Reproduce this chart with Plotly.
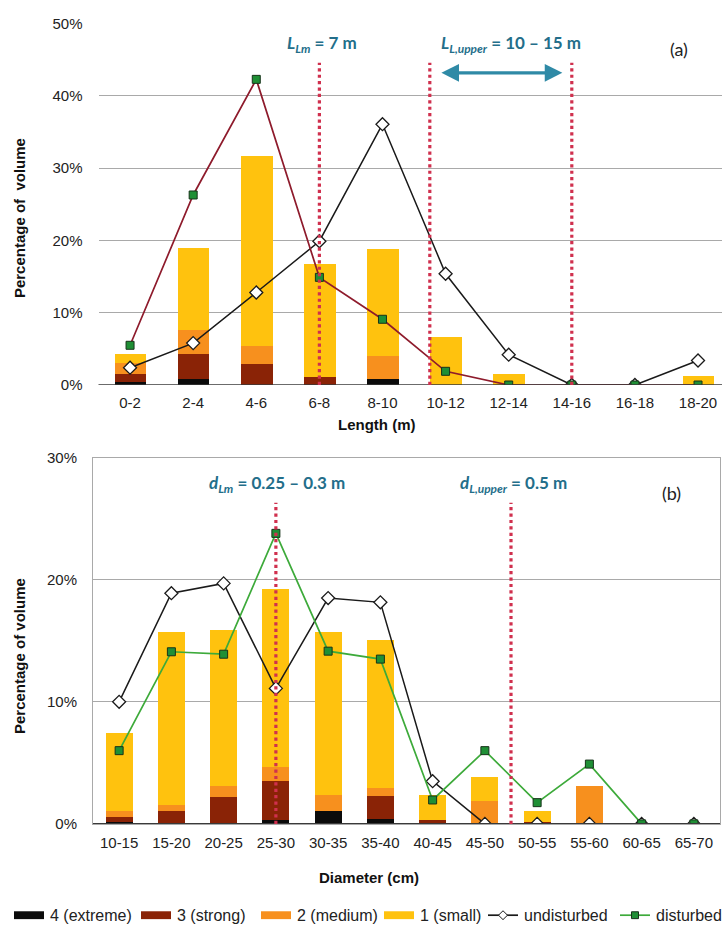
import plotly.graph_objects as go

# ---- data: (a) length classes ----
length_labels = ["0-2", "2-4", "4-6", "6-8", "8-10", "10-12", "12-14", "14-16", "16-18", "18-20"]
len_extreme = [0.4, 0.9, 0.0, 0.0, 0.9, 0.0, 0.0, 0.0, 0.0, 0.0]
len_strong = [1.2, 3.4, 3.0, 1.2, 0.0, 0.0, 0.0, 0.0, 0.0, 0.0]
len_medium = [1.5, 3.3, 2.5, 0.0, 3.1, 0.0, 0.0, 0.0, 0.0, 0.0]
len_small = [1.2, 11.4, 26.2, 15.6, 14.8, 6.7, 1.5, 0.0, 0.0, 1.3]
len_undisturbed = [2.4, 5.8, 12.8, 19.9, 36.1, 15.4, 4.2, 0.0, 0.0, 3.4]
len_disturbed = [5.5, 26.3, 42.3, 14.9, 9.1, 1.9, 0.0, 0.0, 0.0, 0.0]
len_yticks = [0, 10, 20, 30, 40, 50]

# ---- data: (b) diameter classes ----
diam_labels = ["10-15", "15-20", "20-25", "25-30", "30-35", "35-40",
               "40-45", "45-50", "50-55", "55-60", "60-65", "65-70"]
diam_extreme = [0.2, 0.0, 0.0, 0.35, 1.07, 0.4, 0.0, 0.0, 0.05, 0.0, 0.0, 0.0]
diam_strong = [0.4, 1.07, 2.2, 3.15, 0.0, 1.9, 0.35, 0.0, 0.1, 0.0, 0.0, 0.0]
diam_medium = [0.45, 0.5, 0.9, 1.2, 1.35, 0.7, 0.0, 1.9, 0.0, 3.1, 0.0, 0.0]
diam_small = [6.4, 14.2, 12.8, 14.6, 13.3, 12.1, 2.05, 2.0, 0.9, 0.0, 0.0, 0.0]
diam_undisturbed = [10.0, 18.9, 19.7, 11.1, 18.5, 18.15, 3.5, 0.0, 0.0, 0.0, 0.0, 0.0]
diam_disturbed = [6.0, 14.1, 13.9, 23.8, 14.15, 13.5, 1.96, 6.0, 1.74, 4.9, 0.0, 0.0]
diam_yticks = [0, 10, 20, 30]

class_names = ["4 (extreme)", "3 (strong)", "2 (medium)", "1 (small)"]
class_colors = ["#0b0b0b", "#8a2306", "#f7901e", "#ffc20e"]

# reference markers on the category axes (category index positions)
len_refs = [3.0, 4.75, 7.0]
diam_refs = [3.0, 7.5]

W, H = 722, 934
FONT = "Liberation Sans, Arial, sans-serif"
LABEL_FONT = "Lato, Carlito, Calibri, sans-serif"
TEAL = "#236e8a"
ARROW = "#2f8aa6"
REDDOT = "#d0304e"


def px_x(p):
    return p / W


def px_y(p):
    return 1 - p / H


fig = go.Figure()

panels = [
    ("x", "y", length_labels, [len_extreme, len_strong, len_medium, len_small],
     len_undisturbed, len_disturbed, "#8e1b2c", 0.5),
    ("x2", "y2", diam_labels, [diam_extreme, diam_strong, diam_medium, diam_small],
     diam_undisturbed, diam_disturbed, "#3daa3a", 0.52),
]

for xa, ya, labels, stacks, undist, dist, dist_line, bw in panels:
    idx = list(range(len(labels)))
    for name, color, vals in zip(class_names, class_colors, stacks):
        fig.add_trace(go.Bar(x=idx, y=vals, name=name, marker_color=color,
                             marker_line_width=0, width=bw, xaxis=xa, yaxis=ya,
                             showlegend=False))
    fig.add_trace(go.Scatter(x=idx, y=undist, name="undisturbed", mode="lines+markers",
                             line=dict(color="#1a1a1a", width=1.5),
                             marker=dict(symbol="diamond", size=10, color="white",
                                         line=dict(color="#1a1a1a", width=1.3)),
                             xaxis=xa, yaxis=ya, showlegend=False))
    fig.add_trace(go.Scatter(x=idx, y=dist, name="disturbed", mode="lines+markers",
                             line=dict(color=dist_line, width=1.7),
                             marker=dict(symbol="square", size=8, color="#1f8f35",
                                         line=dict(color="#17331a", width=1)),
                             xaxis=xa, yaxis=ya, showlegend=False))

tickfont = dict(family=FONT, size=15, color="#222222")
grid = "#a9a9a9"

fig.update_layout(
    width=W, height=H,
    margin=dict(l=0, r=0, t=0, b=0),
    paper_bgcolor="white", plot_bgcolor="white",
    barmode="stack",
    bargap=0,
    xaxis=dict(domain=[px_x(98.5), 1.0], range=[-0.5, 9.38],
               tickvals=list(range(len(length_labels))), ticktext=length_labels,
               tickfont=tickfont, showgrid=False, zeroline=False, showline=False,
               ticks="outside", ticklen=4, tickcolor="rgba(0,0,0,0)", anchor="y"),
    yaxis=dict(domain=[px_y(383), px_y(15)], range=[0, 50],
               tickvals=len_yticks, ticktext=[f"{v}%" for v in len_yticks],
               tickfont=tickfont, showgrid=True, gridcolor=grid, gridwidth=1,
               zeroline=False, showline=False,
               ticks="outside", ticklen=12, tickcolor="rgba(0,0,0,0)", anchor="x"),
    xaxis2=dict(domain=[px_x(93), px_x(720)], range=[-0.5, 11.5],
                tickvals=list(range(len(diam_labels))), ticktext=diam_labels,
                tickfont=tickfont, showgrid=False, zeroline=False,
                showline=True, mirror=True, linecolor=grid, linewidth=1,
                ticks="outside", ticklen=5, tickcolor="rgba(0,0,0,0)", anchor="y2"),
    yaxis2=dict(domain=[px_y(830), px_y(457)], range=[0, 30],
                tickvals=diam_yticks, ticktext=[f"{v}%" for v in diam_yticks],
                tickfont=tickfont, showgrid=True, gridcolor=grid, gridwidth=1,
                zeroline=False, showline=True, mirror=True, linecolor=grid, linewidth=1,
                ticks="outside", ticklen=12, tickcolor="rgba(0,0,0,0)", anchor="x2"),
)

shapes = []
# dark baselines at 0 %
for xa, ya in (("x", "y"), ("x2", "y2")):
    shapes.append(dict(type="line", xref=xa + " domain", yref=ya, x0=0, x1=1, y0=0, y1=0,
                       line=dict(color="#3a3a3a", width=1.6), layer="above"))
# red dotted reference lines
for xv in len_refs:
    shapes.append(dict(type="line", xref="x", yref="y", x0=xv, x1=xv, y0=0, y1=44.6,
                       line=dict(color=REDDOT, width=3.2, dash="dot"), layer="above"))
for xv in diam_refs:
    shapes.append(dict(type="line", xref="x2", yref="y2", x0=xv, x1=xv, y0=0, y1=26.3,
                       line=dict(color=REDDOT, width=3.2, dash="dot"), layer="above"))

annotations = []
# upper-length range arrow
annotations.append(dict(x=6.85, y=43.2, ax=4.91, ay=43.2, xref="x", yref="y",
                        axref="x", ayref="y", text="", showarrow=True,
                        arrowhead=2, arrowsize=1.1, arrowwidth=3.2, arrowcolor=ARROW,
                        arrowside="end+start", startarrowhead=2, startarrowsize=1.1))

lab_font = dict(family=LABEL_FONT, size=17, color=TEAL)
ann_px = [
    (322, 36, "<b><i>L</i><sub><i>Lm</i></sub> = 7 m</b>", lab_font),
    (511, 36, "<b><i>L</i><sub><i>L,upper</i></sub> = 10 – 15 m</b>", lab_font),
    (679, 41, "(a)", dict(family=LABEL_FONT, size=18, color="#222222")),
    (277, 484, "<b><i>d</i><sub><i>Lm</i></sub> = 0.25 – 0.3 m</b>", lab_font),
    (513, 484, "<b><i>d</i><sub><i>L,upper</i></sub> = 0.5 m</b>", lab_font),
    (671, 493, "(b)", dict(family=LABEL_FONT, size=18, color="#222222")),
    (376, 423, "<b>Length (m)</b>", dict(family=FONT, size=15, color="#111111")),
    (369, 885, "<b>Diameter (cm)</b>", dict(family=FONT, size=15, color="#111111")),
]
for x, y, t, f in ann_px:
    annotations.append(dict(x=px_x(x), y=px_y(y), xref="paper", yref="paper", text=t,
                            showarrow=False, font=f, xanchor="center", yanchor="middle"))
for y in (213, 659):
    annotations.append(dict(x=px_x(19), y=px_y(y), xref="paper", yref="paper",
                            text="<b>Percentage of\u00a0 volume</b>" if y == 213 else "<b>Percentage of volume</b>",
                            textangle=-90, showarrow=False,
                            font=dict(family=FONT, size=15, color="#111111"),
                            xanchor="center", yanchor="middle"))

# legend row drawn along the bottom edge
LEG_Y = 923
rect_x = [14, 141, 261, 384]
text_x = [48, 175, 295, 418]
for x0, tx, name, color in zip(rect_x, text_x, class_names, class_colors):
    shapes.append(dict(type="rect", xref="paper", yref="paper",
                       x0=px_x(x0), x1=px_x(x0 + 30), y0=px_y(LEG_Y + 4), y1=px_y(LEG_Y - 4),
                       fillcolor=color, line=dict(width=0)))
    annotations.append(dict(x=px_x(tx), y=px_y(LEG_Y), xref="paper", yref="paper", text=name,
                            showarrow=False, font=dict(family=FONT, size=16, color="#222222"),
                            xanchor="left", yanchor="middle"))

line_items = [(488, 522, "undisturbed", "#1a1a1a", "diamond"),
              (620, 654, "disturbed", "#3daa3a", "square")]
for x0, tx, name, lc, sym in line_items:
    shapes.append(dict(type="line", xref="paper", yref="paper",
                       x0=px_x(x0), x1=px_x(x0 + 30), y0=px_y(LEG_Y), y1=px_y(LEG_Y),
                       line=dict(color=lc, width=1.7)))
    cx = x0 + 15
    if sym == "diamond":
        pts = [(cx, LEG_Y - 4.5), (cx + 4.5, LEG_Y), (cx, LEG_Y + 4.5), (cx - 4.5, LEG_Y)]
        fill, edge = "white", "#1a1a1a"
    else:
        pts = [(cx - 3.5, LEG_Y - 3.5), (cx + 3.5, LEG_Y - 3.5), (cx + 3.5, LEG_Y + 3.5), (cx - 3.5, LEG_Y + 3.5)]
        fill, edge = "#1f8f35", "#17331a"
    path = "M " + " L ".join(f"{px_x(a):.5f},{px_y(b):.5f}" for a, b in pts) + " Z"
    shapes.append(dict(type="path", xref="paper", yref="paper", path=path,
                       fillcolor=fill, line=dict(color=edge, width=1)))
    annotations.append(dict(x=px_x(tx), y=px_y(LEG_Y), xref="paper", yref="paper", text=name,
                            showarrow=False, font=dict(family=FONT, size=16, color="#222222"),
                            xanchor="left", yanchor="middle"))

fig.update_layout(shapes=shapes, annotations=annotations)

fig.write_html("out.html")
